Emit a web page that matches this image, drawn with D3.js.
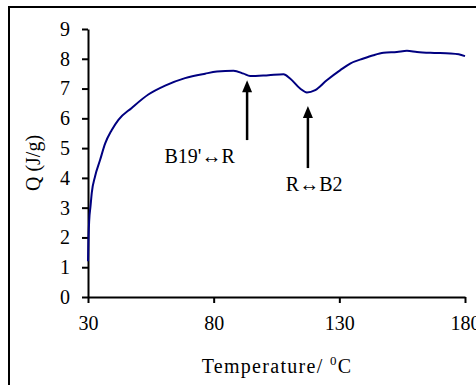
<!DOCTYPE html>
<html>
<head>
<meta charset="utf-8">
<script src="https://cdn.jsdelivr.net/npm/d3@7"></script>
<style>
  body { margin: 0; background: #fff; }
  text { font-family: "Liberation Serif", "Times New Roman", serif; fill: #000; }
</style>
</head>
<body>
<div id="chart"></div>
<script>
// heat flow curve
var temps = [30, 30.2, 30.5, 31, 31.5, 32.8, 34.8, 36.8, 39.4, 42.1, 47.4, 54, 60.7, 68.6, 76.6,
             81.3, 87.9, 91.9, 94.5, 101.8, 107.8, 110.4, 114.4, 117.1, 120.4, 125, 130.4,
             134.3, 139.6, 143.6, 147.6, 152.9, 156.9, 160.9, 166.2, 174.2, 177.5, 180];
var qvals = [1.2, 2.0, 2.6, 3.05, 3.5, 4.05, 4.6, 5.15, 5.6, 5.95, 6.35, 6.8, 7.1, 7.35, 7.5,
             7.57, 7.6, 7.5, 7.42, 7.45, 7.48, 7.34, 7.0, 6.87, 6.95, 7.28, 7.62,
             7.84, 8.01, 8.12, 8.2, 8.23, 8.27, 8.23, 8.2, 8.18, 8.15, 8.09];

var xTicks = [30, 80, 130, 180];
var yTicks = [0, 1, 2, 3, 4, 5, 6, 7, 8, 9];

// annotations: arrow x, arrow tip / tail in Q, label position
var arrowT = [93.3, 117.5];
var arrowTop = [7.28, 6.41];
var arrowBottom = [5.27, 4.33];
var labelText = ["B19'\u2194R", "R\u2194B2"];
var labelT = [74.4, 120];
var labelQ = [4.5, 3.56];

var width = 476, height = 385;

var svg = d3.select("#chart").append("svg")
    .attr("width", width)
    .attr("height", height);

// outer frame (runs off the right and bottom edges)
svg.append("rect")
    .attr("x", 9).attr("y", 7)
    .attr("width", 480).attr("height", 400)
    .attr("fill", "none")
    .attr("stroke", "#000")
    .attr("stroke-width", 2);

var x = d3.scaleLinear().domain([30, 180]).range([88, 465]);
var y = d3.scaleLinear().domain([0, 9]).range([297, 29]);

var xAxis = svg.append("g")
    .attr("transform", "translate(0," + y(0) + ")")
    .call(d3.axisBottom(x).tickValues(xTicks).tickSize(6).tickPadding(13).tickSizeOuter(0));

var yAxis = svg.append("g")
    .attr("transform", "translate(" + x(30) + ",0)")
    .call(d3.axisLeft(y).tickValues(yTicks).tickSize(6).tickPadding(12).tickSizeOuter(0));

[xAxis, yAxis].forEach(function(g) {
  g.selectAll("path, line").attr("stroke", "#000").attr("stroke-width", 2);
  g.selectAll("text")
    .style("font-family", "'Liberation Serif', 'Times New Roman', serif")
    .style("font-size", "20px")
    .attr("fill", "#000");
});

var line = d3.line()
    .x(function(d) { return x(d[0]); })
    .y(function(d) { return y(d[1]); })
    .curve(d3.curveMonotoneX);

svg.append("path")
    .datum(d3.zip(temps, qvals))
    .attr("d", line)
    .attr("fill", "none")
    .attr("stroke", "#000080")
    .attr("stroke-width", 2);

// arrows
arrowT.forEach(function(t, i) {
  svg.append("line")
    .attr("x1", x(t)).attr("x2", x(t))
    .attr("y1", y(arrowBottom[i])).attr("y2", y(arrowTop[i]) + 6)
    .attr("stroke", "#000")
    .attr("stroke-width", 2.5);
  svg.append("path")
    .attr("d", "M" + (x(t) - 5) + "," + (y(arrowTop[i]) + 12) +
               "L" + x(t) + "," + y(arrowTop[i]) +
               "L" + (x(t) + 5) + "," + (y(arrowTop[i]) + 12) + "Z")
    .attr("fill", "#000");
});

labelText.forEach(function(s, i) {
  svg.append("text")
    .attr("x", x(labelT[i]))
    .attr("y", y(labelQ[i]))
    .attr("text-anchor", "middle")
    .style("font-size", "20px")
    .text(s);
});

// axis titles
svg.append("text")
    .attr("transform", "translate(40," + ((y(0) + y(9)) / 2) + ")rotate(-90)")
    .attr("text-anchor", "middle")
    .style("font-size", "20px")
    .text("Q (J/g)");

var xt = svg.append("text")
    .attr("x", 277)
    .attr("y", 373)
    .attr("text-anchor", "middle")
    .style("font-size", "20px")
    .style("letter-spacing", "1.3px");
xt.append("tspan").text("Temperature/ ");
xt.append("tspan").attr("dy", -8).style("font-size", "13px").text("0");
xt.append("tspan").attr("dy", 8).text("C");
</script>
</body>
</html>
